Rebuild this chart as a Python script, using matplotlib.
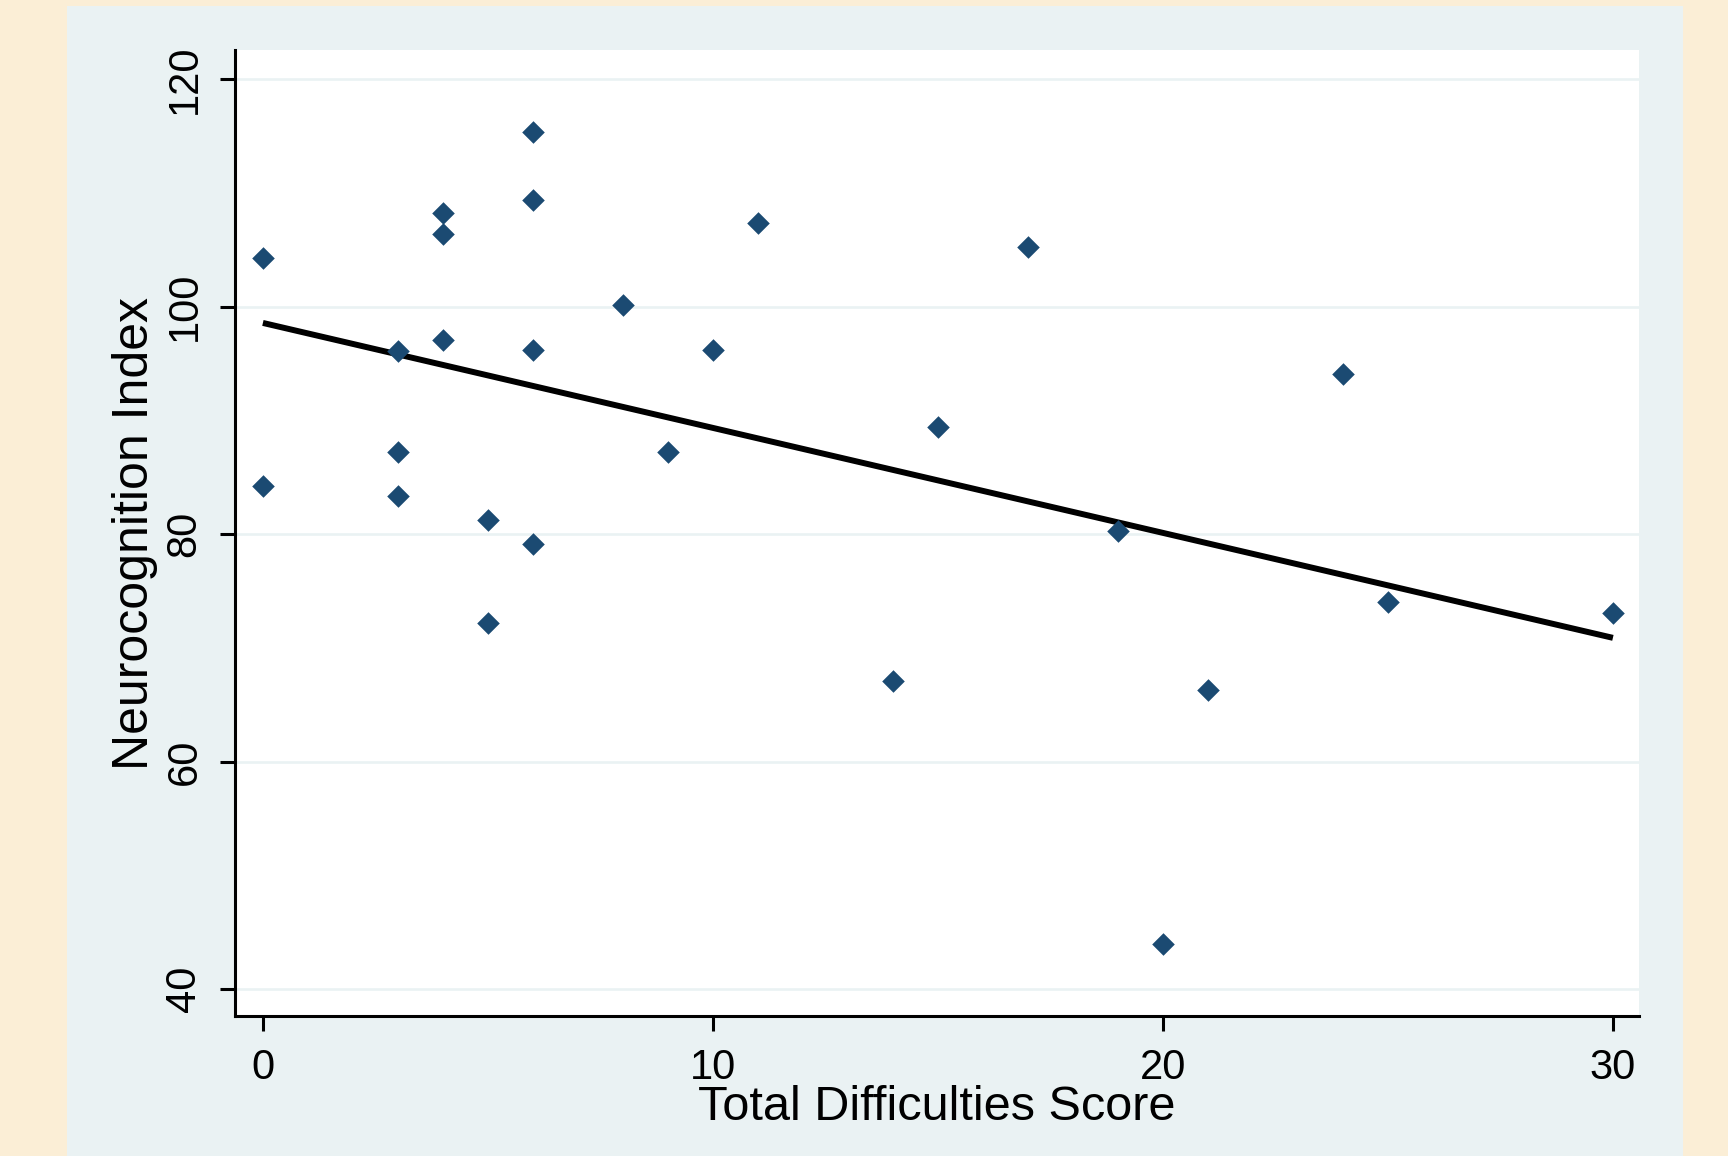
import numpy as np
import matplotlib
matplotlib.use("Agg")
import matplotlib.pyplot as plt
from matplotlib.patches import Rectangle

# values
tds = [0, 0, 3, 3, 3, 4, 4, 4, 5, 5, 6, 6, 6, 6, 8, 9, 10, 11, 14, 15, 17, 19, 20, 21, 24, 25, 30]
nci = [104.3, 84.2, 96.1, 87.2, 83.3, 108.2, 106.4, 97.1, 81.2, 72.2, 115.3, 109.4, 96.2, 79.1,
       100.1, 87.2, 96.2, 107.3, 67.1, 89.4, 105.2, 80.3, 44.0, 66.3, 94.1, 74.0, 73.1]
xticks = [0, 10, 20, 30]
yticks = [40, 60, 80, 100, 120]

plt.rcParams['font.family'] = ['Liberation Sans', 'DejaVu Sans']

W, H = 1728, 1156
fig = plt.figure(figsize=(W / 100, H / 100), dpi=100)
fig.patch.set_facecolor('#FBEED6')
# light blue-grey panel behind the plot
fig.patches.append(Rectangle((67 / W, 0), (1683 - 67) / W, 1 - 6 / H,
                             transform=fig.transFigure, facecolor='#EAF2F3',
                             edgecolor='none', zorder=-5))

ax = fig.add_axes([235 / W, 1 - 1016 / H, (1639 - 235) / W, (1016 - 50) / H])
ax.set_facecolor('white')

x = np.array(tds, dtype=float)
y = np.array(nci)
ax.scatter(x, y, marker='D', s=11.5 ** 2, color='#1B4A72', linewidths=0, zorder=3)

# linear fit, drawn over the range of the data
b, a = np.polyfit(x, y, 1)
xf = np.array([x.min(), x.max()])
ax.plot(xf, a + b * xf, color='black', lw=4.3, zorder=2, solid_capstyle='butt')

ax.set_xlim(-0.62, 30.58)
ax.set_ylim(37.63, 122.55)
ax.set_xticks(xticks)
ax.set_yticks(yticks)
ax.grid(axis='y', color='#EAF2F3', lw=1.9, zorder=1)
ax.set_axisbelow(True)

for s in ['top', 'right']:
    ax.spines[s].set_visible(False)
for s in ['left', 'bottom']:
    ax.spines[s].set_linewidth(2.2)
    ax.spines[s].set_color('black')

ax.tick_params(axis='both', length=11, width=2.2, color='black', labelsize=30)
ax.tick_params(axis='x', pad=12)
ax.tick_params(axis='y', pad=11)
for lab in ax.get_yticklabels():
    lab.set_rotation(90)
    lab.set_va('center')

ax.set_xlabel('Total Difficulties Score', fontsize=35, va='center')
ax.set_ylabel('Neurocognition Index', fontsize=36, va='center')
ax.xaxis.set_label_coords(0.5, -0.095)
ax.yaxis.set_label_coords(-0.071, 0.5)

fig.savefig('out.png', dpi=100, facecolor=fig.get_facecolor())
